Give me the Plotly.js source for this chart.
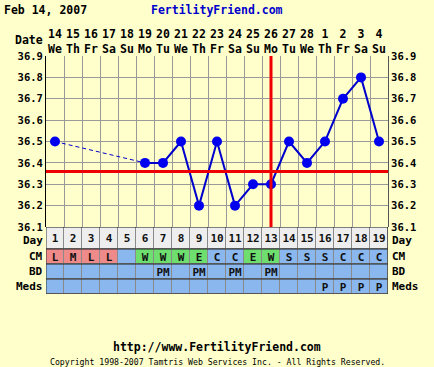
<!DOCTYPE html>
<html>
<head>
<meta charset="utf-8">
<script src="https://cdn.plot.ly/plotly-3.0.1.min.js"></script>
<style>html,body{margin:0;padding:0;background:#ffffcc;}#chart{width:434px;height:367px;}</style>
</head>
<body>
<div id="chart"></div>
<script>
// ---- data ----
const chartDate = 'Feb 14, 2007';
const dayNums = ['14','15','16','17','18','19','20','21','22','23','24','25','26','27','28','1','2','3','4'];
const weekdays = ['We','Th','Fr','Sa','Su','Mo','Tu','We','Th','Fr','Sa','Su','Mo','Tu','We','Th','Fr','Sa','Su'];
const cycleDays = [1,2,3,4,5,6,7,8,9,10,11,12,13,14,15,16,17,18,19];
const temps = [36.5,null,null,null,null,36.4,36.4,36.5,36.2,36.5,36.2,36.3,36.3,36.5,36.4,36.5,36.7,36.8,36.5];
const cm = ['L','M','L','L','','W','W','W','E','C','C','E','W','S','S','S','C','C','C'];
const bd = ['','','','','','','PM','','PM','','PM','','PM','','','','','',''];
const meds = ['','','','','','','','','','','','','','','','P','P','P','P'];
const tempTicks = [36.1,36.2,36.3,36.4,36.5,36.6,36.7,36.8,36.9];
const tempTickText = ['36.1','36.2','36.3','36.4','36.5','36.6','36.7','36.8','36.9'];
const coverline = 36.36;
const ovulationDay = 13;

// ---- styles ----
const FONT = 'DejaVu Sans Mono, monospace';
const bf = (size, color) => ({family: FONT, size: size, color: color || '#000', weight: 'bold'});
const W = 434, H = 367, L = 46, R = 388, T = 56, B = 294;
const px = x => (x - L) / (R - L);
const py = y => (B - y) / (B - T);

// dashed segments across gaps
const dashX = [], dashY = [];
let last = -1;
for (let i = 0; i < temps.length; i++) {
  if (temps[i] !== null) {
    if (last >= 0 && i - last > 1) {
      dashX.push(cycleDays[last], cycleDays[i], null);
      dashY.push(temps[last], temps[i], null);
    }
    last = i;
  }
}

// table heatmap
const cmCode = c => (c === 'L' || c === 'M' || c === 'H') ? 1 : (c === 'W' || c === 'E') ? 3 : 2;
const zRows = [
  meds.map(() => 2),
  bd.map(() => 2),
  cm.map(cmCode),
  cycleDays.map(() => 0)
];
const tRows = [meds, bd, cm, cycleDays.map(String)];
const rowEdges = [0, 15, 30, 45, 67];

const traces = [
  {type: 'heatmap', x: cycleDays, y: rowEdges, z: zRows, text: tRows,
   texttemplate: '%{text}', textfont: bf(11, '#111'),
   xaxis: 'x', yaxis: 'y2', zmin: 0, zmax: 3, showscale: false, xgap: 1, ygap: 1,
   colorscale: [[0, '#eeeeee'], [1/3, '#ef8a8a'], [2/3, '#8ab8ee'], [1, '#6edf6e']],
   hoverinfo: 'skip'},
  {type: 'scatter', mode: 'lines', x: dashX, y: dashY, xaxis: 'x', yaxis: 'y',
   line: {color: '#0000cc', width: 1, dash: '4px,3px'}, hoverinfo: 'skip', connectgaps: false},
  {type: 'scatter', mode: 'lines+markers', x: cycleDays, y: temps, xaxis: 'x', yaxis: 'y',
   line: {color: '#0000cc', width: 2}, marker: {color: '#0000ee', size: 10},
   connectgaps: false, hoverinfo: 'skip'},
  {type: 'scatter', mode: 'markers', x: [cycleDays[0]], y: [temps[0]], xaxis: 'x', yaxis: 'y3',
   marker: {opacity: 0}, hoverinfo: 'skip'}
];

const hline = (y, color, w) => ({type: 'line', xref: 'x', yref: 'y2', x0: 0.5, x1: 19.5, y0: y, y1: y, line: {color: color, width: w}});
const shapes = [
  {type: 'rect', xref: 'x', yref: 'y2', x0: 0.5, x1: 19.5, y0: 0, y1: 67, fillcolor: '#8a8a8a', line: {width: 0}, layer: 'below'},
  hline(0, '#222', 1), hline(15, '#222', 1), hline(30, '#222', 1), hline(45, '#222', 1), hline(67, '#111', 1),
  {type: 'line', xref: 'x', yref: 'y2', x0: 0.5, x1: 0.5, y0: 0, y1: 67, line: {color: '#333', width: 1}},
  {type: 'line', xref: 'x', yref: 'y2', x0: 19.5, x1: 19.5, y0: 0, y1: 67, line: {color: '#333', width: 1}},
  {type: 'line', xref: 'x', yref: 'y', x0: 0.5, x1: 19.5, y0: coverline, y1: coverline, line: {color: '#ee0000', width: 3}},
  {type: 'line', xref: 'x', yref: 'y', x0: ovulationDay, x1: ovulationDay, y0: 36.1, y1: 36.9, line: {color: '#ee0000', width: 3}}
];

const ann = (text, x, y, xanchor, font) => ({text: text, xref: 'paper', yref: 'paper', x: px(x), y: py(y),
  xanchor: xanchor, yanchor: 'middle', showarrow: false, font: font, borderpad: 0});
const annotations = [
  ann(chartDate, 3, 10, 'left', bf(11.5)),
  ann('FertilityFriend.com', 150, 10, 'left', bf(11.5, '#0000cc')),
  ann('Date', 44, 40, 'right', bf(11.5)),
  ann('Day', 44, 240, 'right', bf(11)),
  ann('CM', 44, 256, 'right', bf(11)),
  ann('BD', 44, 271, 'right', bf(11)),
  ann('Meds', 44, 286, 'right', bf(11)),
  ann('Day', 391, 240, 'left', bf(11)),
  ann('CM', 391, 256, 'left', bf(11)),
  ann('BD', 391, 271, 'left', bf(11)),
  ann('Meds', 391, 286, 'left', bf(11)),
  ann('http://www.FertilityFriend.com', 217, 347, 'center', bf(11.5)),
  ann('Copyright 1998-2007 Tamtris Web Services Inc. - All Rights Reserved.', 217, 362, 'center', {family: FONT, size: 8.2, color: '#000'})
];

const layout = {
  width: W, height: H,
  margin: {l: L, r: W - R, t: T, b: H - B, pad: 0},
  paper_bgcolor: '#ffffcc', plot_bgcolor: '#ffffcc',
  showlegend: false,
  xaxis: {range: [0.5, 19.5], side: 'top', anchor: 'y', tickmode: 'array', tickvals: cycleDays,
    ticktext: dayNums.map((d, i) => d + '<br>' + weekdays[i]), showgrid: false, zeroline: false,
    showline: false, ticks: '', tickfont: bf(11.5), fixedrange: true,
    minor: {tickmode: 'linear', tick0: 0.5, dtick: 1, showgrid: true, gridcolor: '#999999', gridwidth: 1, ticks: ''}},
  yaxis: {domain: [67 / 238, 1], range: [36.1, 36.9], anchor: 'x', tickmode: 'array', tickvals: tempTicks,
    ticktext: tempTickText, showgrid: true, gridcolor: '#999999', gridwidth: 1, zeroline: false,
    showline: true, linecolor: '#000', linewidth: 1, ticks: '', tickfont: bf(10.5), fixedrange: true},
  yaxis3: {overlaying: 'y', side: 'right', anchor: 'x', range: [36.1, 36.9], tickmode: 'array', tickvals: tempTicks,
    ticktext: tempTickText, showgrid: false, zeroline: false, showline: true, linecolor: '#555', ticks: '',
    tickfont: bf(10.5), fixedrange: true},
  yaxis2: {domain: [0, 67 / 238], range: [0, 67], anchor: 'x', showticklabels: false, showgrid: false,
    zeroline: false, showline: false, ticks: '', fixedrange: true},
  shapes: shapes,
  annotations: annotations
};

Plotly.newPlot('chart', traces, layout, {displayModeBar: false, staticPlot: true});
</script>
</body>
</html>
